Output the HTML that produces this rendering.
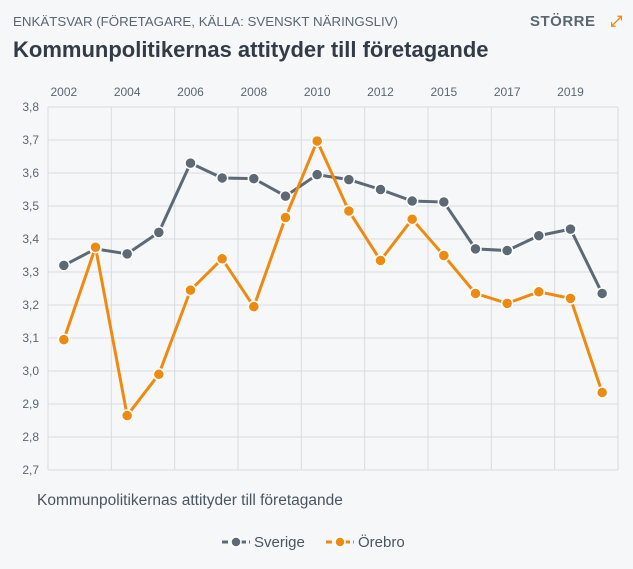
<!DOCTYPE html>
<html><head><meta charset="utf-8"><style>
body{margin:0;background:#f6f7f9;font-family:"Liberation Sans",sans-serif;}
#wrap{position:relative;width:633px;height:569px;overflow:hidden;background:#f6f7f9}
.t{position:absolute;white-space:nowrap}
</style></head><body>
<div id="wrap">
<div class="t" style="left:13px;top:14px;font-size:13.3px;color:#5b6672">ENKÄTSVAR (FÖRETAGARE, KÄLLA: SVENSKT NÄRINGSLIV)</div>
<div class="t" style="left:13px;top:37px;font-size:22px;font-weight:bold;color:#333c46">Kommunpolitikernas attityder till företagande</div>
<div class="t" style="left:530px;top:13px;font-size:15px;font-weight:bold;color:#5b6672;letter-spacing:0.5px">STÖRRE <span style="color:#ee8a10;margin-left:10px">⤢</span></div>
<svg id="c" width="633" height="569" style="position:absolute;left:0;top:0"></svg>
<div class="t" style="left:37px;top:492px;font-size:15.5px;color:#4a5561">Kommunpolitikernas attityder till företagande</div>
</div>
<script>
const categories=["2002","2003","2004","2005","2006","2007","2008","2009","2010","2011","2012","2014","2015","2016","2017","2018","2019","2020"];
const sverige=[3.32,3.37,3.355,3.42,3.63,3.585,3.583,3.53,3.595,3.58,3.55,3.515,3.512,3.37,3.365,3.41,3.43,3.235];
const orebro=[3.095,3.375,2.865,2.99,3.245,3.34,3.195,3.465,3.697,3.485,3.335,3.46,3.35,3.235,3.205,3.24,3.22,2.935];
const yTicks=[2.7,2.8,2.9,3.0,3.1,3.2,3.3,3.4,3.5,3.6,3.7,3.8];
const ns="http://www.w3.org/2000/svg",svg=document.getElementById('c');
const L=48,R=618,T=107,B=470,ymin=2.7,ymax=3.8,bw=(R-L)/categories.length;
const x=i=>L+bw*(i+0.5), y=v=>B-(v-ymin)/(ymax-ymin)*(B-T);
function mk(t,a){const e=document.createElementNS(ns,t);for(const k in a)e.setAttribute(k,a[k]);svg.appendChild(e);return e;}
yTicks.forEach(v=>{const l=mk('line',{x1:L,x2:R,y1:y(v),y2:y(v),stroke:'#d8dbe0'});


const t=mk('text',{x:L-9,y:y(v)+4,'text-anchor':'end','font-size':12,fill:'#5b6672','font-family':'Liberation Sans'});t.textContent=v.toFixed(1).replace('.',',');

});
for(let i=0;i<=categories.length;i+=2){const g=mk('line',{x1:L+bw*i,x2:L+bw*i,y1:T,y2:B,stroke:'#d8dbe0'});

}
categories.forEach((c,i)=>{if(i%2)return;const t=mk('text',{x:x(i),y:96,'text-anchor':'middle','font-size':12,fill:'#5b6672','font-family':'Liberation Sans'});t.textContent=c;

});
function series(d,col,name){const p=mk('polyline',{points:d.map((v,i)=>x(i)+','+y(v)).join(' '),fill:'none',stroke:col,'stroke-width':3});


d.forEach((v,i)=>{const c=mk('circle',{cx:x(i),cy:y(v),r:5.5,fill:col,stroke:'#fff','stroke-width':1.5});

});}
series(sverige,'#5d6975','sverige');series(orebro,'#ee8a10','orebro');
function leg(x0,col,label,name){const g=mk('g',{});

const l=document.createElementNS(ns,'line');[['x1',x0],['x2',x0+28],['y1',542],['y2',542],['stroke',col],['stroke-width',3],['stroke-dasharray','6 3']].forEach(a=>l.setAttribute(a[0],a[1]));g.appendChild(l);
const c=document.createElementNS(ns,'circle');[['cx',x0+14],['cy',542],['r',5],['fill',col],['stroke','#fff'],['stroke-width',1.5]].forEach(a=>c.setAttribute(a[0],a[1]));g.appendChild(c);
const t=document.createElementNS(ns,'text');[['x',x0+32],['y',547],['font-size',15],['fill','#4a5561'],['font-family','Liberation Sans']].forEach(a=>t.setAttribute(a[0],a[1]));t.textContent=label;g.appendChild(t);}
leg(222,'#5d6975','Sverige','legend-sverige');leg(326,'#ee8a10','Örebro','legend-orebro');
</script>
</body></html>
